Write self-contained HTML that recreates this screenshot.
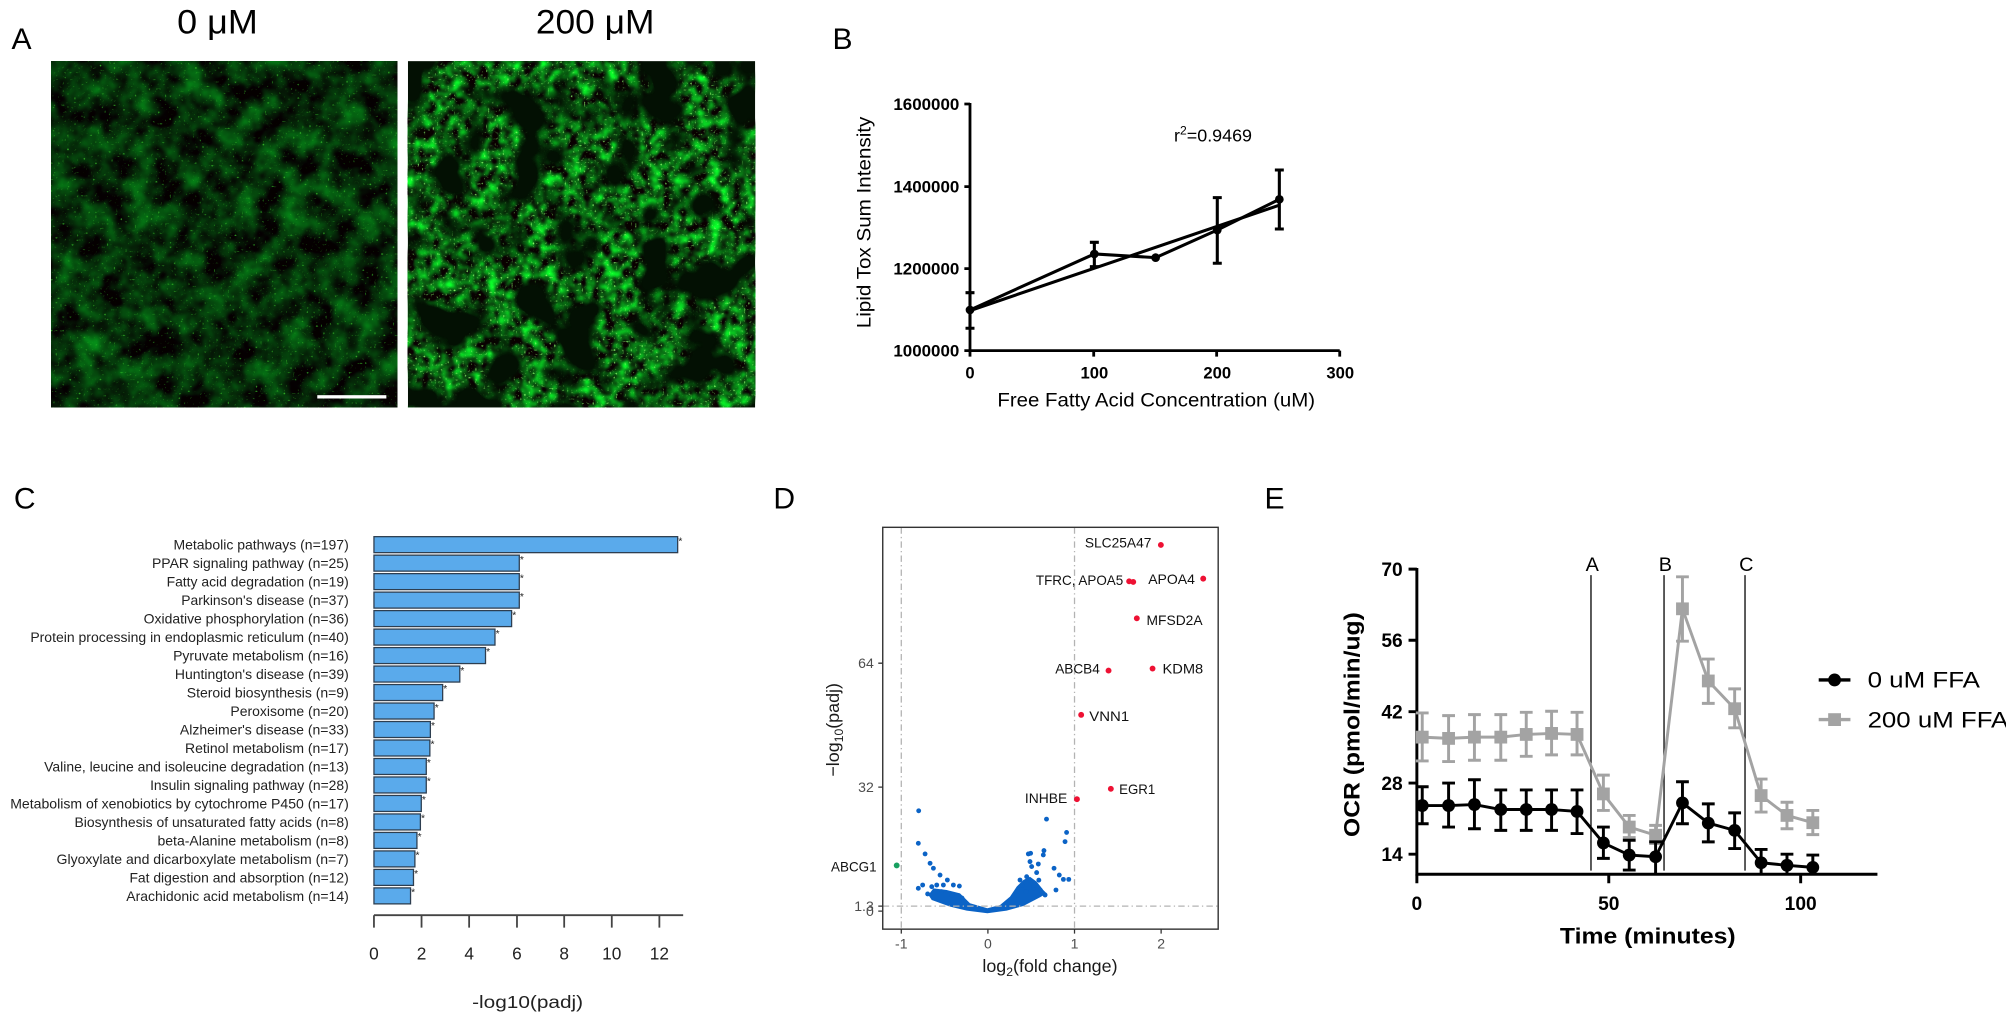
<!DOCTYPE html>
<html><head><meta charset="utf-8"><style>
html,body{margin:0;padding:0;background:#fff;}
svg{display:block;}
text{font-family:"Liberation Sans",Arial,sans-serif;}
</style></head><body>
<svg width="2006" height="1032" viewBox="0 0 1568 806.7" preserveAspectRatio="none" xmlns="http://www.w3.org/2000/svg">
<defs>
<filter id="f1" x="40.2" y="47.8" width="270.5" height="270.7" filterUnits="userSpaceOnUse" color-interpolation-filters="sRGB">
 <feTurbulence type="fractalNoise" baseFrequency="0.05" numOctaves="3" seed="7" result="n1"/>
 <feColorMatrix in="n1" type="matrix" values="0 0 0 0 0.02  0.95 0 0 0 -0.3  0.15 0 0 0 -0.04  0 0 0 0 1" result="c1"/>
 <feTurbulence type="fractalNoise" baseFrequency="0.55" numOctaves="1" seed="2" result="n2"/>
 <feColorMatrix in="n2" type="matrix" values="0 0 0 0 0  0 0 0 0 0  0 0 0 0 0  5 0 0 0 -3.3" result="a2"/>
 <feFlood flood-color="#3cc82c" result="fl"/>
 <feComposite in="fl" in2="a2" operator="in" result="dots"/>
 <feMerge><feMergeNode in="c1"/><feMergeNode in="dots"/></feMerge>
</filter>
<filter id="f2" x="318.9" y="47.8" width="271.3" height="270.7" filterUnits="userSpaceOnUse" color-interpolation-filters="sRGB">
 <feTurbulence type="fractalNoise" baseFrequency="0.03" numOctaves="2" seed="5" result="n1"/>
 <feColorMatrix in="n1" type="matrix" values="0 0 0 0 0  0 0 0 0 0  0 0 0 0 0  5 0 0 0 -1.75" result="mask"/>
 <feTurbulence type="fractalNoise" baseFrequency="0.11" numOctaves="2" seed="13" result="n2"/>
 <feColorMatrix in="n2" type="matrix" values="0 0 0 0 0.04  2.0 0 0 0 -0.62  0.3 0 0 0 -0.08  0 0 0 0 1" result="c2"/>
 <feComposite in="c2" in2="mask" operator="in" result="cells"/>
 <feTurbulence type="fractalNoise" baseFrequency="0.6" numOctaves="1" seed="4" result="n3"/>
 <feColorMatrix in="n3" type="matrix" values="0 0 0 0 0  0 0 0 0 0  0 0 0 0 0  5 0 0 0 -3.1" result="a3"/>
 <feFlood flood-color="#8af56a" result="fl"/>
 <feComposite in="fl" in2="a3" operator="in" result="dots"/>
 <feComposite in="dots" in2="mask" operator="in" result="dots2"/>
 <feMerge><feMergeNode in="cells"/><feMergeNode in="dots2"/></feMerge>
</filter>
</defs>

<!-- ===== Panel A ===== -->
<text x="9" y="38.5" font-size="23.5">A</text>
<text x="138.5" y="26.1" font-size="27" textLength="63" lengthAdjust="spacingAndGlyphs">0 μM</text>
<text x="418.9" y="26.1" font-size="27" textLength="92.6" lengthAdjust="spacingAndGlyphs">200 μM</text>
<rect x="40.2" y="47.8" width="270.5" height="270.7" fill="#071a05"/>
<rect x="40.2" y="47.8" width="270.5" height="270.7" fill="#000" filter="url(#f1)"/>
<rect x="318.9" y="47.8" width="271.3" height="270.7" fill="#031003"/>
<rect x="318.9" y="47.8" width="271.3" height="270.7" fill="#000" filter="url(#f2)"/>
<rect x="248" y="308.9" width="54" height="2.6" fill="#fff"/>

<!-- ===== Panel B ===== -->
<text x="650.7" y="38.5" font-size="23.5">B</text>
<g stroke="#000" stroke-width="2.2" fill="none">
 <path d="M758.2 80.5V274.1H1047.2"/>
 <path d="M753.8 81.3H758.2M753.8 145.9H758.2M753.8 210H758.2M753.8 274.1H758.2"/>
 <path d="M758.2 274.1V278.8M854.9 274.1V278.8M951 274.1V278.8M1047.2 274.1V278.8"/>
</g>
<g font-size="13" font-weight="bold" text-anchor="end">
 <text x="749.9" y="85.9" textLength="51.6" lengthAdjust="spacingAndGlyphs">1600000</text>
 <text x="749.9" y="150.5" textLength="51.6" lengthAdjust="spacingAndGlyphs">1400000</text>
 <text x="749.9" y="214.6" textLength="51.6" lengthAdjust="spacingAndGlyphs">1200000</text>
 <text x="749.9" y="278.7" textLength="51.6" lengthAdjust="spacingAndGlyphs">1000000</text>
</g>
<g font-size="13" font-weight="bold" text-anchor="middle">
 <text x="758.2" y="295.7">0</text>
 <text x="855.4" y="295.7">100</text>
 <text x="951.5" y="295.7">200</text>
 <text x="1047.6" y="295.7">300</text>
</g>
<text x="779.6" y="317.9" font-size="15" textLength="248.3" lengthAdjust="spacingAndGlyphs">Free Fatty Acid Concentration (uM)</text>
<text transform="translate(680.6,173.9) rotate(-90)" x="0" y="0" font-size="15" text-anchor="middle" textLength="165.4" lengthAdjust="spacingAndGlyphs">Lipid Tox Sum Intensity</text>
<text x="917.7" y="110.7" font-size="14">r<tspan font-size="9.5" dy="-5.5">2</tspan><tspan dy="5.5">=0.9469</tspan></text>
<g stroke="#000" stroke-width="2.4" fill="none" stroke-linejoin="round">
 <path d="M758.2 242.3L855.4 198.5L903.3 201.4L951.5 179.8L1000 155.8"/>
 <path d="M758.2 242.8L1000.5 160.2"/>
 <path d="M758.2 228.8V256.6M754.7 228.8H761.7M754.7 256.6H761.7"/>
 <path d="M855.4 189.4V208.4M851.9 189.4H858.9M851.9 208.4H858.9"/>
 <path d="M951.5 154.5V205.8M948 154.5H955M948 205.8H955"/>
 <path d="M1000 132.9V179M996.5 132.9H1003.5M996.5 179H1003.5"/>
</g>
<g fill="#000">
 <circle cx="758.2" cy="242.3" r="3.4"/><circle cx="855.4" cy="198.5" r="3.4"/><circle cx="903.3" cy="201.4" r="3.4"/><circle cx="951.5" cy="179.8" r="3.4"/><circle cx="1000" cy="155.8" r="3.4"/>
</g>

<!-- ===== Panel C ===== -->
<text x="10.8" y="397.4" font-size="23.5">C</text>
<g fill="#5aaaeb" stroke="#2d3e50" stroke-width="1">
 <rect x="292.3" y="419.5" width="237.4" height="12.5"/>
 <rect x="292.3" y="433.95" width="113.6" height="12.5"/>
 <rect x="292.3" y="448.4" width="113.6" height="12.5"/>
 <rect x="292.3" y="462.85" width="113.6" height="12.5"/>
 <rect x="292.3" y="477.3" width="107.6" height="12.5"/>
 <rect x="292.3" y="491.75" width="94.6" height="12.5"/>
 <rect x="292.3" y="506.2" width="87.2" height="12.5"/>
 <rect x="292.3" y="520.65" width="67.1" height="12.5"/>
 <rect x="292.3" y="535.1" width="53.7" height="12.5"/>
 <rect x="292.3" y="549.55" width="47" height="12.5"/>
 <rect x="292.3" y="564" width="44.1" height="12.5"/>
 <rect x="292.3" y="578.45" width="43.7" height="12.5"/>
 <rect x="292.3" y="592.9" width="40.9" height="12.5"/>
 <rect x="292.3" y="607.35" width="40.9" height="12.5"/>
 <rect x="292.3" y="621.8" width="37" height="12.5"/>
 <rect x="292.3" y="636.25" width="36.3" height="12.5"/>
 <rect x="292.3" y="650.7" width="33.6" height="12.5"/>
 <rect x="292.3" y="665.15" width="32" height="12.5"/>
 <rect x="292.3" y="679.6" width="30.9" height="12.5"/>
 <rect x="292.3" y="694.05" width="28.6" height="12.5"/>
</g>
<g font-size="8" fill="#222">
 <text x="530.3" y="425.5">*</text>
 <text x="406.4" y="440">*</text>
 <text x="406.4" y="454.4">*</text>
 <text x="406.4" y="468.9">*</text>
 <text x="400.4" y="483.3">*</text>
 <text x="387.4" y="497.8">*</text>
 <text x="380" y="512.2">*</text>
 <text x="359.9" y="526.7">*</text>
 <text x="346.5" y="541.1">*</text>
 <text x="339.8" y="555.6">*</text>
 <text x="336.9" y="570">*</text>
 <text x="336.5" y="584.5">*</text>
 <text x="333.7" y="598.9">*</text>
 <text x="333.7" y="613.4">*</text>
 <text x="329.8" y="627.8">*</text>
 <text x="329.1" y="642.3">*</text>
 <text x="326.4" y="656.7">*</text>
 <text x="324.8" y="671.2">*</text>
 <text x="323.7" y="685.6">*</text>
 <text x="321.4" y="700.1">*</text>
</g>
<g font-size="10.5" fill="#222">
 <text x="135.6" y="429.6" textLength="137" lengthAdjust="spacingAndGlyphs">Metabolic pathways (n=197)</text>
 <text x="118.8" y="444.05" textLength="153.8" lengthAdjust="spacingAndGlyphs">PPAR signaling pathway (n=25)</text>
 <text x="130.2" y="458.5" textLength="142.4" lengthAdjust="spacingAndGlyphs">Fatty acid degradation (n=19)</text>
 <text x="141.7" y="472.95" textLength="130.9" lengthAdjust="spacingAndGlyphs">Parkinson's disease (n=37)</text>
 <text x="112.3" y="487.4" textLength="160.3" lengthAdjust="spacingAndGlyphs">Oxidative phosphorylation (n=36)</text>
 <text x="23.7" y="501.85" textLength="248.9" lengthAdjust="spacingAndGlyphs">Protein processing in endoplasmic reticulum (n=40)</text>
 <text x="135.3" y="516.3" textLength="137.3" lengthAdjust="spacingAndGlyphs">Pyruvate metabolism (n=16)</text>
 <text x="136.7" y="530.75" textLength="135.9" lengthAdjust="spacingAndGlyphs">Huntington's disease (n=39)</text>
 <text x="146" y="545.2" textLength="126.6" lengthAdjust="spacingAndGlyphs">Steroid biosynthesis (n=9)</text>
 <text x="180.1" y="559.65" textLength="92.5" lengthAdjust="spacingAndGlyphs">Peroxisome (n=20)</text>
 <text x="140.6" y="574.1" textLength="132" lengthAdjust="spacingAndGlyphs">Alzheimer's disease (n=33)</text>
 <text x="144.6" y="588.55" textLength="128" lengthAdjust="spacingAndGlyphs">Retinol metabolism (n=17)</text>
 <text x="34.5" y="603" textLength="238.1" lengthAdjust="spacingAndGlyphs">Valine, leucine and isoleucine degradation (n=13)</text>
 <text x="117.3" y="617.45" textLength="155.3" lengthAdjust="spacingAndGlyphs">Insulin signaling pathway (n=28)</text>
 <text x="8" y="631.9" textLength="264.6" lengthAdjust="spacingAndGlyphs">Metabolism of xenobiotics by cytochrome P450 (n=17)</text>
 <text x="58.2" y="646.35" textLength="214.4" lengthAdjust="spacingAndGlyphs">Biosynthesis of unsaturated fatty acids (n=8)</text>
 <text x="123.1" y="660.8" textLength="149.5" lengthAdjust="spacingAndGlyphs">beta-Alanine metabolism (n=8)</text>
 <text x="44.2" y="675.25" textLength="228.4" lengthAdjust="spacingAndGlyphs">Glyoxylate and dicarboxylate metabolism (n=7)</text>
 <text x="101.2" y="689.7" textLength="171.4" lengthAdjust="spacingAndGlyphs">Fat digestion and absorption (n=12)</text>
 <text x="98.7" y="704.15" textLength="173.9" lengthAdjust="spacingAndGlyphs">Arachidonic acid metabolism (n=14)</text>
</g>
<g stroke="#444" stroke-width="1.4" fill="none">
 <path d="M292.3 715.4H534"/>
 <path d="M292.3 715.4V725.1M329.5 715.4V725.1M366.7 715.4V725.1M404.1 715.4V725.1M441 715.4V725.1M478.2 715.4V725.1M515.4 715.4V725.1"/>
</g>
<g font-size="13.5" fill="#222" text-anchor="middle">
 <text x="292.3" y="750">0</text><text x="329.5" y="750">2</text><text x="366.7" y="750">4</text><text x="404.1" y="750">6</text><text x="441" y="750">8</text><text x="478.2" y="750">10</text><text x="515.4" y="750">12</text>
</g>
<text x="412.4" y="788" font-size="14" fill="#222" text-anchor="middle" textLength="86.8" lengthAdjust="spacingAndGlyphs">-log10(padj)</text>

<!-- ===== Panel D ===== -->
<text x="604.5" y="397.4" font-size="23.5">D</text>
<g stroke="#b3b3b3" stroke-width="1" fill="none" stroke-dasharray="5 2.5 1 2.5">
 <path d="M704.5 412.2V726.3M839.9 412.2V726.3"/>
</g>
<g fill="#0b63c6">
 <path d="M725.7 699.6L729.6 694.4L740 695.7L750.4 698.3L758.2 706.1L771.8 710L781.7 707.4L789.5 700.9L794.7 693.1L799.9 687.9L805.1 685.3L810.3 689.2L815.5 695.7L818.1 698.3L813 701.4L799.9 708.2L786.9 711.8L771.8 713.9L755.6 711.8L742.6 708.7L728.3 703.5Z"/>
 <circle cx="718.1" cy="633.8" r="1.9"/><circle cx="818" cy="640.3" r="1.9"/><circle cx="833.7" cy="650.7" r="1.9"/>
 <circle cx="717.8" cy="659.2" r="1.9"/><circle cx="723.1" cy="667.5" r="1.9"/><circle cx="727" cy="674.8" r="1.9"/><circle cx="729.6" cy="678.7" r="1.9"/><circle cx="734.8" cy="684" r="1.9"/><circle cx="740.5" cy="687.9" r="1.9"/><circle cx="749.9" cy="692.6" r="1.9"/><circle cx="721.2" cy="691.8" r="1.9"/><circle cx="717.8" cy="694.4" r="1.9"/><circle cx="725.1" cy="698.8" r="1.9"/><circle cx="728.3" cy="693.1" r="1.9"/><circle cx="732.2" cy="691.8" r="1.9"/><circle cx="737.4" cy="691.8" r="1.9"/><circle cx="745.2" cy="691.8" r="1.9"/>
 <circle cx="803.8" cy="667.5" r="1.9"/><circle cx="805.6" cy="667" r="1.9"/><circle cx="816" cy="664.9" r="1.9"/><circle cx="815.5" cy="668.3" r="1.9"/><circle cx="832.5" cy="657.9" r="1.9"/><circle cx="811.6" cy="675.4" r="1.9"/><circle cx="805.1" cy="673.5" r="1.9"/><circle cx="810.3" cy="682.1" r="1.9"/><circle cx="806.4" cy="677.4" r="1.9"/><circle cx="823.9" cy="678.7" r="1.9"/><circle cx="828" cy="684" r="1.9"/><circle cx="831.2" cy="687.4" r="1.9"/><circle cx="835.4" cy="687.4" r="1.9"/><circle cx="825.4" cy="695.7" r="1.9"/><circle cx="797.3" cy="687.9" r="1.9"/><circle cx="802.5" cy="685.3" r="1.9"/><circle cx="807.8" cy="694.4" r="1.9"/><circle cx="813" cy="695.7" r="1.9"/><circle cx="816.9" cy="699.6" r="1.9"/>
 <circle cx="736" cy="697" r="1.9"/><circle cx="744" cy="700" r="1.9"/><circle cx="752" cy="702" r="1.9"/><circle cx="795" cy="700" r="1.9"/><circle cx="802" cy="697" r="1.9"/><circle cx="808" cy="692" r="1.9"/><circle cx="812" cy="688" r="1.9"/><circle cx="799" cy="692" r="1.9"/>
</g>
<path d="M690 708.3H952.2" stroke="#b3b3b3" stroke-width="1" fill="none" stroke-dasharray="5 2.5 1 2.5"/>
<rect x="690" y="412.2" width="262.2" height="314.1" fill="none" stroke="#333" stroke-width="1.1"/>
<g stroke="#333" stroke-width="1" fill="none">
 <path d="M704.5 726.3V729.8M772.2 726.3V729.8M839.9 726.3V729.8M907.6 726.3V729.8"/>
 <path d="M686.5 518.4H690M686.5 615.3H690M686.5 708.3H690M686.5 712.2H690"/>
</g>
<g font-size="11" fill="#4d4d4d" text-anchor="middle">
 <text x="704.5" y="741.3">-1</text><text x="772.2" y="741.3">0</text><text x="839.9" y="741.3">1</text><text x="907.6" y="741.3">2</text>
</g>
<g font-size="11" fill="#4d4d4d" text-anchor="end">
 <text x="683" y="522.3">64</text><text x="683" y="619.2">32</text><text x="683" y="712">1.3</text><text x="683" y="716">0</text>
</g>
<text x="820.7" y="760" font-size="14" fill="#1a1a1a" text-anchor="middle">log<tspan font-size="9.5" dy="3">2</tspan><tspan dy="-3">(fold change)</tspan></text>
<text transform="translate(656,570.5) rotate(-90)" font-size="14" fill="#1a1a1a" text-anchor="middle">−log<tspan font-size="9.5" dy="3">10</tspan><tspan dy="-3">(padj)</tspan></text>
<g fill="#ee1133">
 <circle cx="907.4" cy="426" r="2.3"/>
 <circle cx="882.6" cy="454.4" r="2.3"/><circle cx="885.8" cy="454.9" r="2.3"/>
 <circle cx="940.5" cy="452.3" r="2.3"/>
 <circle cx="888.6" cy="483.3" r="2.3"/>
 <circle cx="866.5" cy="524.2" r="2.3"/>
 <circle cx="900.9" cy="522.6" r="2.3"/>
 <circle cx="845.1" cy="558.8" r="2.3"/>
 <circle cx="868.3" cy="616.6" r="2.3"/>
 <circle cx="841.8" cy="624.7" r="2.3"/>
</g>
<circle cx="700.9" cy="676.5" r="2.3" fill="#18a060"/>
<g font-size="11" fill="#111">
 <text x="848" y="427.8" textLength="52" lengthAdjust="spacingAndGlyphs">SLC25A47</text>
 <text x="809.7" y="457.2" textLength="68.3" lengthAdjust="spacingAndGlyphs">TFRC, APOA5</text>
 <text x="897.5" y="456.5" textLength="36.5" lengthAdjust="spacingAndGlyphs">APOA4</text>
 <text x="896.2" y="488.5" textLength="43.8" lengthAdjust="spacingAndGlyphs">MFSD2A</text>
 <text x="824.8" y="526.3" textLength="34.9" lengthAdjust="spacingAndGlyphs">ABCB4</text>
 <text x="908.7" y="526.3" textLength="31.8" lengthAdjust="spacingAndGlyphs">KDM8</text>
 <text x="851.4" y="563.5" textLength="31.2" lengthAdjust="spacingAndGlyphs">VNN1</text>
 <text x="874.8" y="620.8" textLength="28.2" lengthAdjust="spacingAndGlyphs">EGR1</text>
 <text x="801.1" y="627.8" textLength="33.1" lengthAdjust="spacingAndGlyphs">INHBE</text>
 <text x="649.6" y="681.2" textLength="35.6" lengthAdjust="spacingAndGlyphs">ABCG1</text>
</g>

<!-- ===== Panel E ===== -->
<text x="988.4" y="397.4" font-size="23.5">E</text>
<g stroke="#000" stroke-width="1" fill="none">
 <path d="M1243.6 449.6V680.6M1300.7 449.6V680.6M1364 449.6V680.6"/>
</g>
<g font-size="15.5" text-anchor="middle">
 <text x="1244.6" y="446.2">A</text><text x="1301.7" y="446.2">B</text><text x="1365" y="446.2">C</text>
</g>
<g stroke="#000" stroke-width="2.3" fill="none">
 <path d="M1107.5 444V683.4H1467.5"/>
 <path d="M1101 444.9H1107.5M1101 500.5H1107.5M1101 556.3H1107.5M1101 612.1H1107.5M1101 667.7H1107.5"/>
 <path d="M1107.5 683.4V690.4M1257.5 683.4V690.4M1407.5 683.4V690.4"/>
</g>
<g font-size="15" font-weight="bold" text-anchor="end">
 <text x="1096.4" y="450.2">70</text><text x="1096.4" y="505.8">56</text><text x="1096.4" y="561.6">42</text><text x="1096.4" y="617.4">28</text><text x="1096.4" y="673">14</text>
</g>
<g font-size="15" font-weight="bold" text-anchor="middle">
 <text x="1107.5" y="711.2">0</text><text x="1257.5" y="711.2">50</text><text x="1407.5" y="711.2">100</text>
</g>
<text x="1219.3" y="737.5" font-size="17" font-weight="bold" textLength="137.4" lengthAdjust="spacingAndGlyphs">Time (minutes)</text>
<text transform="translate(1062.5,566.4) rotate(-90)" font-size="17" font-weight="bold" text-anchor="middle" textLength="175.7" lengthAdjust="spacingAndGlyphs">OCR (pmol/min/ug)</text>

<!-- gray series -->
<g stroke="#a3a3a3" stroke-width="2.3" fill="none" stroke-linejoin="round">
 <path d="M1111.7 576.2L1132.3 577.2L1152.5 576.2L1173.1 576.2L1193 574.1L1212.8 573.3L1232.7 574.1L1253.3 620.6L1273.5 646.5L1294.1 652.9L1315.1 475.9L1335.3 532.3L1355.9 554L1376.6 621.9L1396.8 637.4L1417 643.1"/>
 <path d="M1111.7 557.3V594.8M1106.7 557.3H1116.7M1106.7 594.8H1116.7
 M1132.3 559.4V595.3M1127.3 559.4H1137.3M1127.3 595.3H1137.3
 M1152.5 558.6V594.3M1147.5 558.6H1157.5M1147.5 594.3H1157.5
 M1173.1 558.6V594.3M1168.1 558.6H1178.1M1168.1 594.3H1178.1
 M1193 556.8V591.2M1188 556.8H1198M1188 591.2H1198
 M1212.8 556V590.1M1207.8 556H1217.8M1207.8 590.1H1217.8
 M1232.7 556.8V590.1M1227.7 556.8H1237.7M1227.7 590.1H1237.7
 M1253.3 605.9V633.5M1248.3 605.9H1258.3M1248.3 633.5H1258.3
 M1273.5 637.4V654.7M1268.5 637.4H1278.5M1268.5 654.7H1278.5
 M1294.1 645.2V659.4M1289.1 645.2H1299.1M1289.1 659.4H1299.1
 M1315.1 450.9V501.2M1310.1 450.9H1320.1M1310.1 501.2H1320.1
 M1335.3 515.2V549.8M1330.3 515.2H1340.3M1330.3 549.8H1340.3
 M1355.9 538.5V568.9M1350.9 538.5H1360.9M1350.9 568.9H1360.9
 M1376.6 609V634.8M1371.6 609H1381.6M1371.6 634.8H1381.6
 M1396.8 627.1V647.8M1391.8 627.1H1401.8M1391.8 647.8H1401.8
 M1417 633.5V652.4M1412 633.5H1422M1412 652.4H1422"/>
</g>
<g fill="#a3a3a3">
 <rect x="1106.7" y="571.2" width="10" height="10"/><rect x="1127.3" y="572.2" width="10" height="10"/><rect x="1147.5" y="571.2" width="10" height="10"/><rect x="1168.1" y="571.2" width="10" height="10"/><rect x="1188" y="569.1" width="10" height="10"/><rect x="1207.8" y="568.3" width="10" height="10"/><rect x="1227.7" y="569.1" width="10" height="10"/><rect x="1248.3" y="615.6" width="10" height="10"/><rect x="1268.5" y="641.5" width="10" height="10"/><rect x="1289.1" y="647.9" width="10" height="10"/><rect x="1310.1" y="470.9" width="10" height="10"/><rect x="1330.3" y="527.3" width="10" height="10"/><rect x="1350.9" y="549" width="10" height="10"/><rect x="1371.6" y="616.9" width="10" height="10"/><rect x="1391.8" y="632.4" width="10" height="10"/><rect x="1412" y="638.1" width="10" height="10"/>
</g>
<!-- black series -->
<g stroke="#000" stroke-width="2.3" fill="none" stroke-linejoin="round">
 <path d="M1111.7 629.7L1132.3 629.7L1152.5 628.9L1173.1 632.8L1193 632.8L1212.8 632.8L1232.7 634.3L1253.3 658.9L1273.5 668.4L1294.1 669.7L1315.1 627.6L1335.3 643.4L1355.9 649.1L1376.6 674.4L1396.8 676.4L1417 678"/>
 <path d="M1111.7 615V643.9M1106.7 615H1116.7M1106.7 643.9H1116.7
 M1132.3 612.1V646.5M1127.3 612.1H1137.3M1127.3 646.5H1137.3
 M1152.5 609.5V647.8M1147.5 609.5H1157.5M1147.5 647.8H1157.5
 M1173.1 617.5V649.1M1168.1 617.5H1178.1M1168.1 649.1H1178.1
 M1193 617.5V649.1M1188 617.5H1198M1188 649.1H1198
 M1212.8 617.5V649.1M1207.8 617.5H1217.8M1207.8 649.1H1217.8
 M1232.7 617.5V651.6M1227.7 617.5H1237.7M1227.7 651.6H1237.7
 M1253.3 646.5V671M1248.3 646.5H1258.3M1248.3 671H1258.3
 M1273.5 656.8V680.1M1268.5 656.8H1278.5M1268.5 680.1H1278.5
 M1294.1 658.1V683.2M1289.1 658.1H1299.1
 M1315.1 611.1V643.9M1310.1 611.1H1320.1M1310.1 643.9H1320.1
 M1335.3 628.4V658.1M1330.3 628.4H1340.3M1330.3 658.1H1340.3
 M1355.9 635.4V663.3M1350.9 635.4H1360.9M1350.9 663.3H1360.9
 M1376.6 664V683.2M1371.6 664H1381.6
 M1396.8 667.7V683.2M1391.8 667.7H1401.8
 M1417 668.4V683.2M1412 668.4H1422"/>
</g>
<g fill="#000">
 <circle cx="1111.7" cy="629.7" r="5"/><circle cx="1132.3" cy="629.7" r="5"/><circle cx="1152.5" cy="628.9" r="5"/><circle cx="1173.1" cy="632.8" r="5"/><circle cx="1193" cy="632.8" r="5"/><circle cx="1212.8" cy="632.8" r="5"/><circle cx="1232.7" cy="634.3" r="5"/><circle cx="1253.3" cy="658.9" r="5"/><circle cx="1273.5" cy="668.4" r="5"/><circle cx="1294.1" cy="669.7" r="5"/><circle cx="1315.1" cy="627.6" r="5"/><circle cx="1335.3" cy="643.4" r="5"/><circle cx="1355.9" cy="649.1" r="5"/><circle cx="1376.6" cy="674.4" r="5"/><circle cx="1396.8" cy="676.4" r="5"/><circle cx="1417" cy="678" r="5"/>
</g>
<!-- legend -->
<path d="M1421.6 531.5H1446.4" stroke="#000" stroke-width="2.6"/>
<circle cx="1434" cy="531.5" r="5" fill="#000"/>
<path d="M1421.6 562.5H1446.4" stroke="#a3a3a3" stroke-width="2.6"/>
<rect x="1429" y="557.5" width="10" height="10" fill="#a3a3a3"/>
<text x="1459.8" y="537.5" font-size="17" textLength="87.8" lengthAdjust="spacingAndGlyphs">0 uM FFA</text>
<text x="1459.8" y="568.5" font-size="17" textLength="110" lengthAdjust="spacingAndGlyphs">200 uM FFA</text>
</svg>
</body></html>
